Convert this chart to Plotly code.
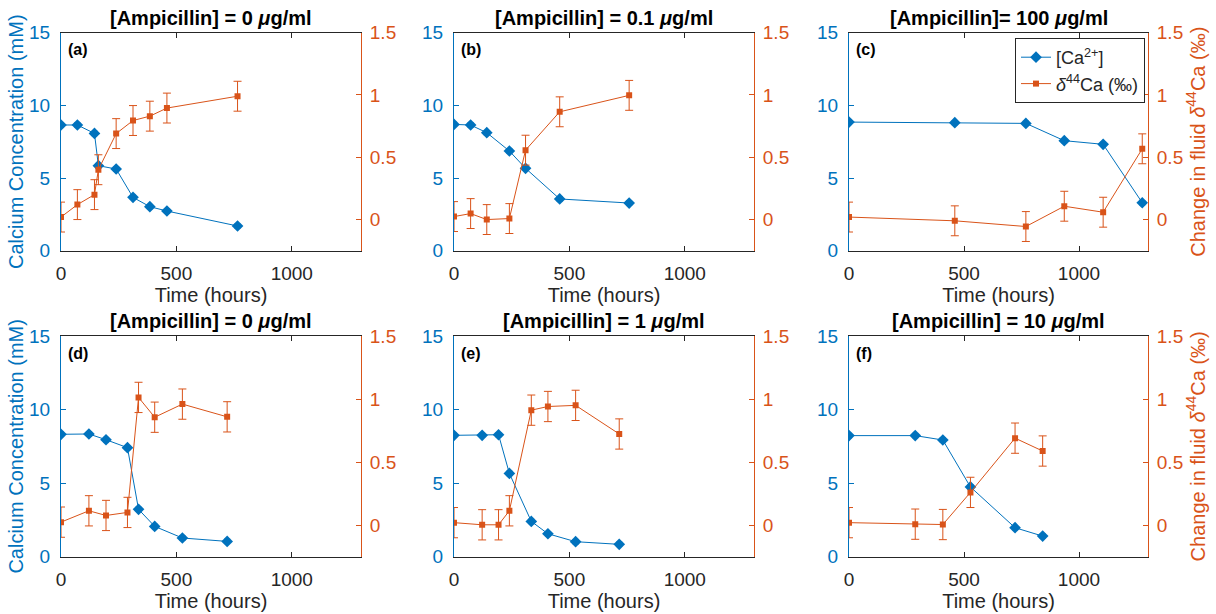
import plotly.graph_objects as go

# ---------------- data ----------------
titles = ["[Ampicillin] = 0 <i>μ</i>g/ml", "[Ampicillin] = 0.1 <i>μ</i>g/ml", "[Ampicillin]= 100 <i>μ</i>g/ml",
          "[Ampicillin] = 0 <i>μ</i>g/ml", "[Ampicillin] = 1 <i>μ</i>g/ml", "[Ampicillin] = 10 <i>μ</i>g/ml"]
panel_labels = ["(a)", "(b)", "(c)", "(d)", "(e)", "(f)"]

time_a = [0, 71, 145, 162, 239, 312, 385, 459, 765]
ca_a = [8.65, 8.65, 8.07, 5.85, 5.62, 3.67, 3.03, 2.73, 1.70]
d44_a = [0.02, 0.12, 0.20, 0.40, 0.69, 0.795, 0.83, 0.895, 0.99]

time_b = [0, 72, 142, 240, 310, 458, 759]
ca_b = [8.69, 8.65, 8.12, 6.86, 5.67, 3.56, 3.28]
d44_b = [0.024, 0.048, 0.0, 0.008, 0.557, 0.865, 0.997]

time_c = [0, 460, 769, 936, 1105, 1275]
ca_c = [8.85, 8.81, 8.76, 7.57, 7.32, 3.30]
d44_c = [0.02, -0.01, -0.056, 0.107, 0.059, 0.568]

time_d = [0, 121, 195, 288, 336, 406, 526, 720]
ca_d = [8.32, 8.34, 7.95, 7.41, 3.22, 2.06, 1.27, 1.04]
d44_d = [0.024, 0.114, 0.077, 0.101, 1.013, 0.856, 0.96, 0.859]

time_e = [0, 122, 193, 240, 335, 407, 527, 716]
ca_e = [8.25, 8.25, 8.29, 5.66, 2.40, 1.56, 1.02, 0.84]
d44_e = [0.02, 0.003, 0.003, 0.114, 0.912, 0.941, 0.95, 0.723]

time_f = [0, 288, 408, 528, 722, 842]
ca_f = [8.23, 8.23, 7.93, 4.74, 1.97, 1.40]
d44_f = [0.02, 0.008, 0.005, 0.26, 0.69, 0.588]

ca_err = 0.15      # mM
d44_err = 0.12     # permil

times = [time_a, time_b, time_c, time_d, time_e, time_f]
cas = [ca_a, ca_b, ca_c, ca_d, ca_e, ca_f]
d44s = [d44_a, d44_b, d44_c, d44_d, d44_e, d44_f]

x_ticks = [0, 500, 1000]
ca_ticks = [0, 5, 10, 15]
d44_ticks = [0, 0.5, 1, 1.5]

# ---------------- style ----------------
W, H = 1216, 614
BLUE = "#0072BD"
ORANGE = "#D95319"
DARK = "#262626"
FONT = "Liberation Sans, Arial, sans-serif"

col_px = [(61, 361), (454, 754), (849, 1148)]
row_px = [(32.7, 250.7), (336, 556.7)]

fig = go.Figure()
layout = dict(
    width=W, height=H, margin=dict(l=0, r=0, t=0, b=0),
    paper_bgcolor="white", plot_bgcolor="white",
    font=dict(family=FONT, color=DARK, size=18),
    showlegend=True,
    legend=dict(x=1015 / W, y=1 - 38 / H, xanchor="left", yanchor="top",
                bordercolor=DARK, borderwidth=1, bgcolor="white",
                font=dict(size=18, color=DARK), tracegroupgap=0),
    annotations=[],
)

for i in range(6):
    r, c = divmod(i, 3)
    x0, x1 = col_px[c]
    ytop, ybot = row_px[r]
    xd = [x0 / W, x1 / W]
    yd = [1 - ybot / H, 1 - ytop / H]
    xn = "" if i == 0 else str(i + 1)
    yl = "" if i == 0 else str(2 * i + 1)
    yr = str(2 * i + 2)

    layout["xaxis" + xn] = dict(
        domain=xd, anchor="y" + yl, range=[0, 1300], tickvals=x_ticks,
        showline=True, linecolor=DARK, linewidth=1, mirror="ticks",
        ticks="inside", ticklen=5, tickcolor=DARK, showgrid=False, zeroline=False,
        tickfont=dict(size=19, color=DARK, family=FONT), ticklabelstandoff=5,
        automargin=False,
        title=dict(text="Time (hours)", font=dict(size=20, color=DARK), standoff=1),
    )
    layout["yaxis" + yl] = dict(
        domain=yd, anchor="x" + xn, range=[0, 15], tickvals=ca_ticks,
        showline=True, linecolor=BLUE, linewidth=1, ticks="inside", ticklen=5,
        tickcolor=BLUE, showgrid=False, zeroline=False,
        tickfont=dict(size=19, color=BLUE, family=FONT), ticklabelstandoff=6,
        automargin=False,
        title=dict(text="Calcium Concentration (mM)" if c == 0 else "",
                   font=dict(size=20, color=BLUE), standoff=0),
    )
    layout["yaxis" + yr] = dict(
        domain=yd, anchor="x" + xn, overlaying="y" + yl, side="right",
        range=[-0.25, 1.5], tickvals=d44_ticks, ticktext=["0", "0.5", "1", "1.5"],
        showline=True, linecolor=ORANGE, linewidth=1, ticks="inside", ticklen=5,
        tickcolor=ORANGE, showgrid=False, zeroline=False,
        tickfont=dict(size=19, color=ORANGE, family=FONT), ticklabelstandoff=4,
        automargin=False,
        title=dict(text="Change in fluid <i>δ</i><sup>44</sup>Ca (‰)" if c == 2 else "",
                   font=dict(size=20, color=ORANGE), standoff=4),
    )

    # blue: calcium concentration
    fig.add_trace(go.Scatter(
        x=times[i], y=cas[i], xaxis="x" + xn, yaxis="y" + yl,
        mode="lines+markers", name="[Ca<sup>2+</sup>]", legendgroup="ca",
        showlegend=(i == 2),
        line=dict(color=BLUE, width=1),
        marker=dict(symbol="diamond", size=9, color=BLUE),
        error_y=dict(type="constant", value=ca_err, color=BLUE, thickness=1, width=3),
    ))
    # orange: delta44Ca
    fig.add_trace(go.Scatter(
        x=times[i], y=d44s[i], xaxis="x" + xn, yaxis="y" + yr,
        mode="lines+markers", name="<i>δ</i><sup>44</sup>Ca (‰)", legendgroup="d44",
        showlegend=(i == 2),
        line=dict(color=ORANGE, width=1),
        marker=dict(symbol="square", size=6, color=ORANGE),
        error_y=dict(type="constant", value=d44_err, color=ORANGE, thickness=1, width=4),
    ))

    # subplot title
    layout["annotations"].append(dict(
        text="<b>" + titles[i] + "</b>", x=(x0 + x1) / 2 / W, y=1 - (ytop - 15) / H,
        xref="paper", yref="paper", xanchor="center", yanchor="middle",
        showarrow=False, font=dict(size=20, color="black", family=FONT)))
    # panel label
    layout["annotations"].append(dict(
        text="<b>" + panel_labels[i] + "</b>", x=(x0 + 5) / W, y=1 - (ytop + 17) / H,
        xref="paper", yref="paper", xanchor="left", yanchor="middle",
        showarrow=False, font=dict(size=16, color="black", family=FONT)))

fig.update_layout(**layout)
fig.write_html("out.html")
